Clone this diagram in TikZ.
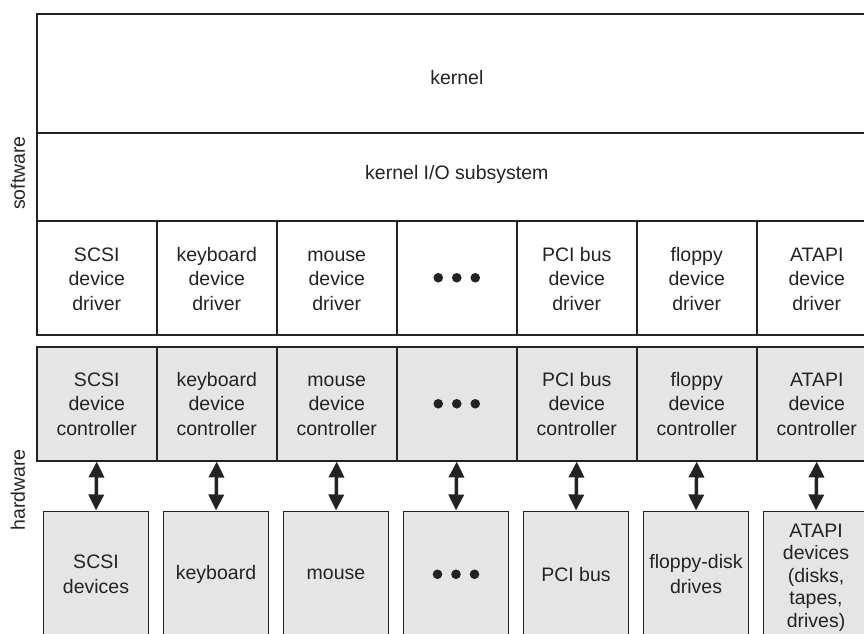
\documentclass[tikz,border=0pt]{standalone}
\usepackage{fontspec}
\setmainfont{Liberation Sans}
\usetikzlibrary{arrows.meta}
\definecolor{boxgray}{RGB}{229,229,229}
\definecolor{ink}{RGB}{35,35,35}
\newcommand\drvpad{\rule{0pt}{16pt}}
\newcommand\ctlpad{\rule{0pt}{14pt}}
\newcommand\devpad{\rule{0pt}{20pt}}
\tikzset{
  txt/.style={font=\fontsize{19.5}{24.5}\selectfont, text=ink, align=center, inner sep=0pt},
  wide/.style={txt, draw=ink, line width=1.6pt, minimum width=840pt, anchor=north west},
  cell/.style={txt, draw=ink, line width=1.5pt, minimum width=120pt, minimum height=114pt, anchor=north west},
  ctrl/.style={cell, fill=boxgray},
  dev/.style={txt, draw=ink, line width=1.5pt, fill=boxgray, minimum width=105pt, minimum height=126pt, anchor=north},
  side/.style={txt, rotate=90},
  dbl/.style={draw=ink, fill=ink, line width=3.5pt, {Triangle[length=16pt,width=15pt]}-{Triangle[length=16pt,width=15pt]}},
  dot/.style={fill=ink}
}
\begin{document}
\begin{tikzpicture}[x=1pt,y=-1pt]
\useasboundingbox (0,0) rectangle (864,633);
\clip (0,0) rectangle (864,633);
\fill[white] (0,0) rectangle (864,633);
% software part
\node[wide, minimum height=119pt] (kernel) at (36,13) {\raisebox{0pt}[21.6pt][0pt]{kernel}};
\node[wide, minimum height=88pt] (kio) at (36,132) {\raisebox{0pt}[4.6pt][0pt]{kernel I/O subsystem}};
\node[cell] (r1) at (36,220) {\drvpad SCSI\\device\\driver};
\node[cell] (r2) at (156,220) {\drvpad keyboard\\device\\driver};
\node[cell] (r3) at (276,220) {\drvpad mouse\\device\\driver};
\node[cell] (r4) at (396,220) {};
\node[cell] (r5) at (516,220) {\drvpad PCI bus\\device\\driver};
\node[cell] (r6) at (636,220) {\drvpad floppy\\device\\driver};
\node[cell] (r7) at (756,220) {\drvpad ATAPI\\device\\driver};
% controllers
\node[ctrl] (c1) at (36,346) {\ctlpad SCSI\\device\\controller};
\node[ctrl] (c2) at (156,346) {\ctlpad keyboard\\device\\controller};
\node[ctrl] (c3) at (276,346) {\ctlpad mouse\\device\\controller};
\node[ctrl] (c4) at (396,346) {};
\node[ctrl] (c5) at (516,346) {\ctlpad PCI bus\\device\\controller};
\node[ctrl] (c6) at (636,346) {\ctlpad floppy\\device\\controller};
\node[ctrl] (c7) at (756,346) {\ctlpad ATAPI\\device\\controller};
% devices
\node[dev] (d1) at (96,510.5) {SCSI\\devices};
\node[dev] (d2) at (216,510.5) {keyboard};
\node[dev] (d3) at (336,510.5) {mouse};
\node[dev] (d4) at (456,510.5) {};
\node[dev] (d5) at (576,510.5) {PCI bus};
\node[dev] (d6) at (696,510.5) {floppy-disk\\drives};
\node[dev, font=\fontsize{19.5}{22.5}\selectfont] (d7) at (816,510.5) {\devpad ATAPI\\devices\\(disks,\\tapes,\\drives)};
% ellipsis dots
\foreach \n in {r4,c4,d4}{
  \fill[dot] (\n.center) circle (4.8pt);
  \fill[dot] ([xshift=-18.5pt]\n.center) circle (4.8pt);
  \fill[dot] ([xshift=18.5pt]\n.center) circle (4.8pt);
}
% arrows
\foreach \i in {1,...,7}{
  \draw[dbl] (c\i.south) -- (d\i.north);
}
% side labels
\node[side] (sw) at (18,173) {software};
\node[side] (hw) at (18,490) {hardware};
\end{tikzpicture}
\end{document}
